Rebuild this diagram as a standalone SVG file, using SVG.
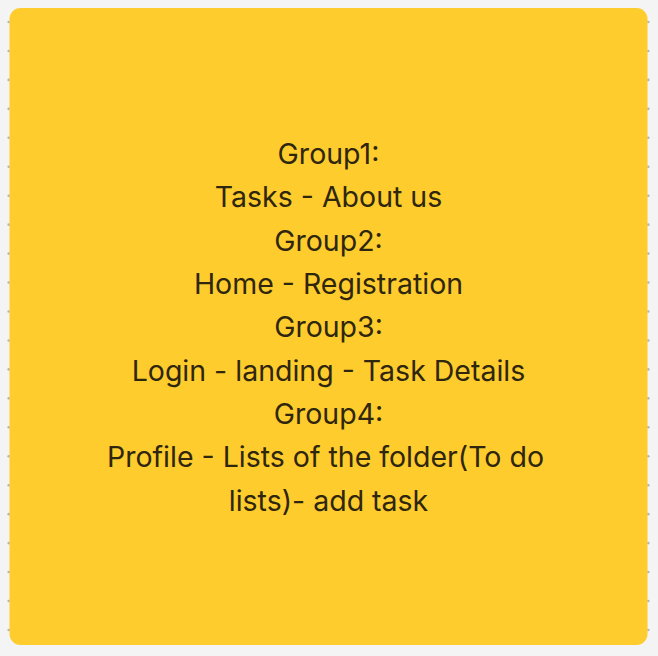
<svg xmlns="http://www.w3.org/2000/svg" width="658" height="656" viewBox="0 0 658 656">
<style>
.dot{fill:#b5b5b5}
.t{font-family:Inter,"Noto Sans","Liberation Sans",sans-serif;font-size:28.5px;fill:#2e260f;text-anchor:middle}
</style>
<defs>
<g id="col">
<circle cx="0" cy="22" r="1.3"/><circle cx="0" cy="50.95" r="1.3"/><circle cx="0" cy="79.9" r="1.3"/><circle cx="0" cy="108.85" r="1.3"/><circle cx="0" cy="137.8" r="1.3"/><circle cx="0" cy="166.75" r="1.3"/><circle cx="0" cy="195.7" r="1.3"/><circle cx="0" cy="224.65" r="1.3"/><circle cx="0" cy="253.6" r="1.3"/><circle cx="0" cy="282.55" r="1.3"/><circle cx="0" cy="311.5" r="1.3"/><circle cx="0" cy="340.45" r="1.3"/><circle cx="0" cy="369.4" r="1.3"/><circle cx="0" cy="398.35" r="1.3"/><circle cx="0" cy="427.3" r="1.3"/><circle cx="0" cy="456.25" r="1.3"/><circle cx="0" cy="485.2" r="1.3"/><circle cx="0" cy="514.15" r="1.3"/><circle cx="0" cy="543.1" r="1.3"/><circle cx="0" cy="572.05" r="1.3"/><circle cx="0" cy="601" r="1.3"/><circle cx="0" cy="629.95" r="1.3"/>
</g>
</defs>
<rect width="658" height="656" fill="#f4f4f4"/>
<use href="#col" x="8.7" class="dot"/>
<use href="#col" x="648.3" class="dot"/>
<g id="sticky">
<rect x="9.5" y="8" width="638" height="637" rx="11" fill="#fecc2c"/>
<text class="t" x="328.5" y="164">Group1:</text>
<text class="t" x="328.5" y="207.3">Tasks - About us</text>
<text class="t" x="328.5" y="250.6">Group2:</text>
<text class="t" x="328.5" y="294">Home - Registration</text>
<text class="t" x="328.5" y="337.3">Group3:</text>
<text class="t" x="328.5" y="380.6">Login - landing - Task Details</text>
<text class="t" x="328.5" y="424">Group4:</text>
<text class="t" x="325.5" y="467.3">Profile - Lists of the folder(To do</text>
<text class="t" x="328.5" y="510.6">lists)- add task</text>
</g>
</svg>
